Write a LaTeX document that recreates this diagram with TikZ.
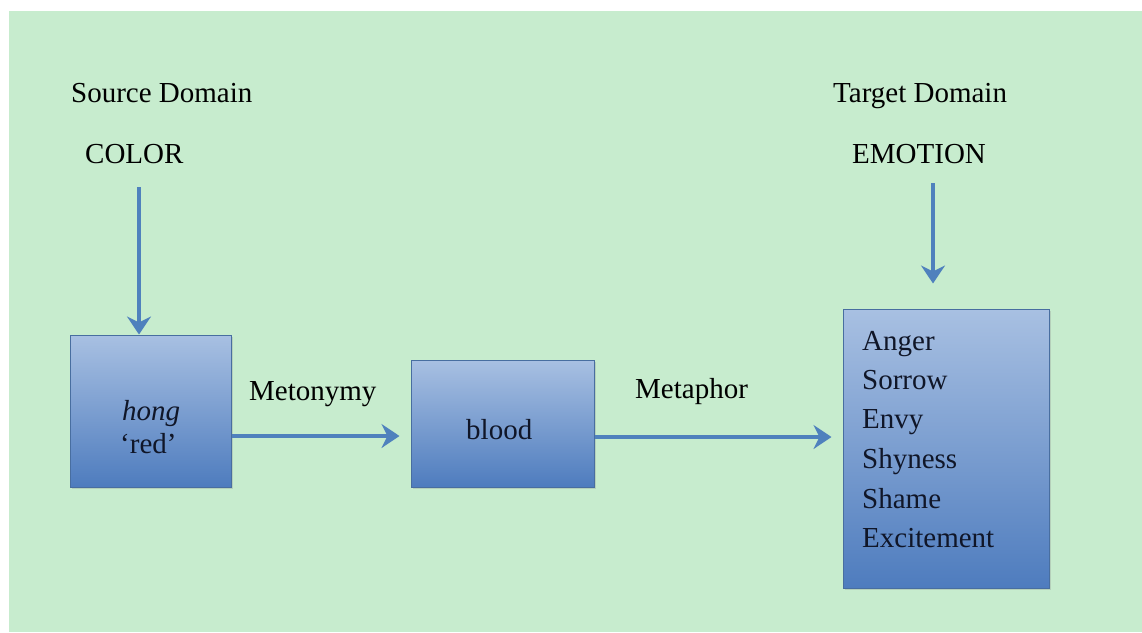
\documentclass[tikz,border=0pt]{standalone}
\usepackage{fontspec}
\setmainfont{Liberation Serif}
\usepackage{tikz}
\usetikzlibrary{arrows.meta,shadows}

\definecolor{bggreen}{RGB}{199,236,206}
\definecolor{boxtop}{RGB}{168,192,226}
\definecolor{boxbot}{RGB}{78,124,190}
\definecolor{boxline}{RGB}{72,110,160}
\definecolor{arrowblue}{RGB}{79,129,189}
\definecolor{inktext}{RGB}{16,22,40}

\tikzset{
  lbl/.style={inner sep=0pt, anchor=base west, font=\fontsize{29}{35}\selectfont},
  blockbox/.style={draw=boxline, line width=1pt, top color=boxtop, bottom color=boxbot,
    drop shadow={opacity=0.25, shadow xshift=2pt, shadow yshift=-2pt}},
  link/.style={draw=arrowblue, line width=4.5pt, -{Stealth[length=18pt,width=24pt,inset=6pt]}}
}

\begin{document}
\begin{tikzpicture}[x=1pt, y=-1pt]
				\useasboundingbox (0,0) rectangle (1142,632);
				\fill[white] (0,0) rectangle (1142,632);
				\fill[bggreen] (9,11) rectangle (1142,632);
				% source side
				\node[lbl] (srcdom) at (71,102) {Source Domain};
				\node[lbl] (color) at (85,163) {COLOR};
				\node[blockbox, minimum width=161pt, minimum height=152pt] (hong) at (150.5,411) {};
				\node[lbl, font=\fontsize{29}{35}\selectfont\itshape, text=inktext] (hongword) at (122,420) {hong};
				\node[lbl, text=inktext] (red) at (120,453) {‘red’};
				% middle
				\node[blockbox, minimum width=183pt, minimum height=127pt] (blood) at (502.5,423.5) {};
				\node[lbl, text=inktext] (bloodword) at (466,439) {blood};
				\node[lbl] (metonymy) at (249,400) {Metonymy};
				\node[lbl] (metaphor) at (635,398) {Metaphor};
				% target side
				\node[lbl] (tgtdom) at (833,102) {Target Domain};
				\node[lbl] (emotion) at (852,163) {EMOTION};
				\node[blockbox, minimum width=206pt, minimum height=279pt] (emo) at (946,448.5) {};
				\foreach \w/\yy [count=\k] in {Anger/350,Sorrow/389,Envy/428,Shyness/468,Shame/508,Excitement/547} {
					\node[lbl, text=inktext] (emo\k) at (862,\yy) {\w};
				}
				% arrows
				\draw[link, shorten <=24pt] ([xshift=-11.5pt]hong.north |- color.south) -- ([xshift=-11.5pt]hong.north);
				\draw[link, shorten <=20pt, shorten >=25pt] ([xshift=-13pt]emo.north |- emotion.south) -- ([xshift=-13pt]emo.north);
				\draw[link, shorten >=11pt] ([yshift=-25pt]hong.east) -- ([yshift=-25pt]hong.east -| blood.west);
				\draw[link, shorten >=11pt] ([yshift=-13.5pt]blood.east) -- ([yshift=-13.5pt]blood.east -| emo.west);
			\end{tikzpicture}
\end{document}
